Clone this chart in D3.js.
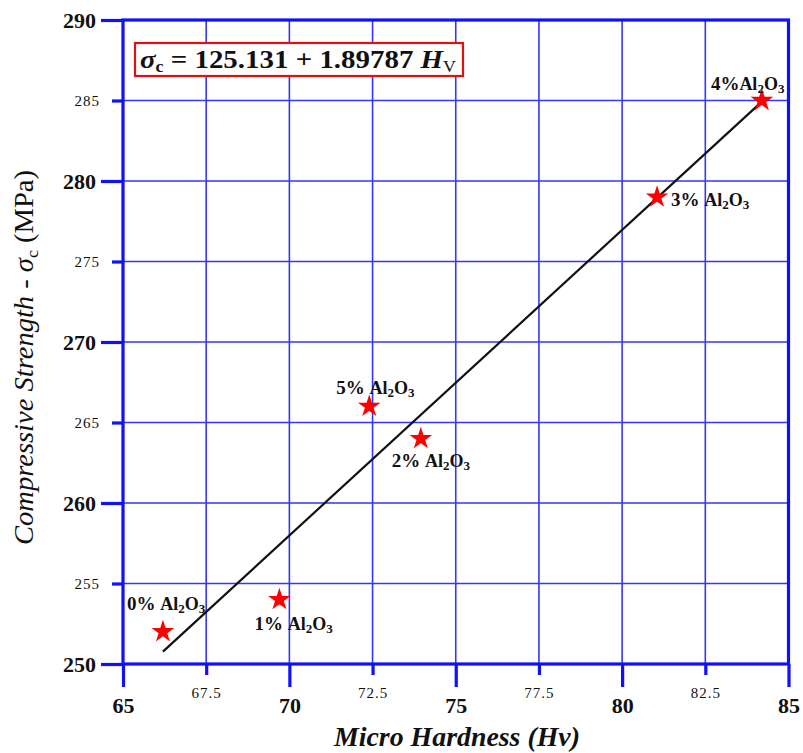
<!DOCTYPE html>
<html>
<head>
<meta charset="utf-8">
<script src="https://cdn.jsdelivr.net/npm/d3@7"></script>
<style>
  html, body { margin: 0; padding: 0; background: #fff; }
  svg { display: block; }
  text { font-family: "Liberation Serif", "Times New Roman", serif; }
</style>
</head>
<body>
<svg id="chart" width="803" height="753"></svg>
<script>
// Micro hardness vs. compressive strength for Al2O3 contents
const contents   = ["0%", "1%", "5%", "2%", "3%", "4%"];
const hardness   = [66.2, 69.7, 72.4, 73.95, 81.05, 84.2];
const strength   = [252, 254, 266, 264, 279, 285];

// Linear fit: sigma_c = a + b * Hv
const fitA = 125.131;
const fitB = 1.89787;

const xMajorTicks = [65, 70, 75, 80, 85];
const xMinorTicks = [67.5, 72.5, 77.5, 82.5];
const yMajorTicks = [250, 260, 270, 280, 290];
const yMinorTicks = [255, 265, 275, 285];

const svg = d3.select("#chart");
const W = 803, H = 753;
svg.append("rect").attr("width", W).attr("height", H).attr("fill", "#fff");

const x = d3.scaleLinear().domain([65, 85]).range([123, 788.5]);
const y = d3.scaleLinear().domain([250, 290]).range([664, 20]);

const blue = "#1010ff";
const serif = "'Liberation Serif', 'Times New Roman', serif";

// grid
const grid = svg.append("g");
grid.selectAll("line.v").data(xMajorTicks.concat(xMinorTicks)).join("line")
  .attr("x1", d => x(d)).attr("x2", d => x(d))
  .attr("y1", y(290)).attr("y2", y(250))
  .attr("stroke", "#3535ff").attr("stroke-width", 1.6);
grid.selectAll("line.h").data(yMajorTicks.concat(yMinorTicks)).join("line")
  .attr("x1", x(65)).attr("x2", x(85))
  .attr("y1", d => y(d)).attr("y2", d => y(d))
  .attr("stroke", "#3535ff").attr("stroke-width", 1.6);

// frame
svg.append("rect")
  .attr("x", x(65)).attr("y", y(290))
  .attr("width", x(85) - x(65)).attr("height", y(250) - y(290))
  .attr("fill", "none").attr("stroke", blue).attr("stroke-width", 3.2);

function styleAxis(g, major) {
  g.attr("font-family", null);
  g.select(".domain").remove();
  g.selectAll(".tick line").attr("stroke", blue).attr("stroke-width", 3.2);
  g.selectAll(".tick text")
    .attr("fill", "#111")
    .style("font-family", serif)
    .style("font-weight", major ? "bold" : "normal")
    .style("font-size", major ? "22px" : "15px")
    .style("letter-spacing", major ? "0px" : "1px");
}

// x axis
svg.append("g").attr("transform", `translate(0,${y(250)})`)
  .call(d3.axisBottom(x).tickValues(xMajorTicks).tickSize(23).tickPadding(10).tickFormat(d3.format("d")))
  .call(g => styleAxis(g, true));
svg.append("g").attr("transform", `translate(0,${y(250)})`)
  .call(d3.axisBottom(x).tickValues(xMinorTicks).tickSize(11).tickPadding(12).tickFormat(d3.format(".1f")))
  .call(g => styleAxis(g, false));

// y axis
svg.append("g").attr("transform", `translate(${x(65)},0)`)
  .call(d3.axisLeft(y).tickValues(yMajorTicks).tickSize(22).tickPadding(5).tickFormat(d3.format("d")))
  .call(g => styleAxis(g, true));
svg.append("g").attr("transform", `translate(${x(65)},0)`)
  .call(d3.axisLeft(y).tickValues(yMinorTicks).tickSize(11).tickPadding(12).tickFormat(d3.format("d")))
  .call(g => styleAxis(g, false));

// axis titles
svg.append("text")
  .attr("x", 334).attr("y", 746)
  .attr("textLength", 246).attr("lengthAdjust", "spacingAndGlyphs")
  .style("font-size", "27px").style("font-style", "italic").style("font-weight", "bold")
  .attr("fill", "#111")
  .text("Micro Hardness (Hv)");

const yt = svg.append("text")
  .attr("transform", "translate(33,545) rotate(-90)")
  .attr("textLength", 375).attr("lengthAdjust", "spacingAndGlyphs")
  .style("font-size", "27px").attr("fill", "#111");
yt.append("tspan").style("font-style", "italic").text("Compressive Strength - ");
yt.append("tspan").style("font-style", "italic").text("σ");
yt.append("tspan").attr("dy", 5).style("font-size", "17px").text("c");
yt.append("tspan").attr("dy", -5).text(" (MPa)");

// fitted line over the measured hardness range
const hvExt = d3.extent(hardness);
const line = d3.line().x(d => x(d)).y(d => y(fitA + fitB * d));
svg.append("path")
  .attr("d", line(hvExt))
  .attr("stroke", "#111").attr("stroke-width", 2.2).attr("fill", "none");

// data points
const pts = contents.map((c, i) => ({ c, hv: hardness[i], s: strength[i] }));
svg.selectAll("path.star").data(pts).join("path")
  .attr("class", "star")
  .attr("transform", d => `translate(${x(d.hv)},${y(d.s)})`)
  .attr("d", d3.symbol(d3.symbolStar, 160))
  .attr("fill", "#ff0000");

// point labels, placed around each star
const labelOffset = {
  "0%": [-36, -28, " "],
  "1%": [-25, 24, " "],
  "5%": [-33, -18, " "],
  "2%": [-29, 22, " "],
  "3%": [14, 3, " "],
  "4%": [-51, -17, ""]
};
pts.forEach(d => {
  const [dx, dy, sep] = labelOffset[d.c];
  const t = svg.append("text")
    .attr("x", x(d.hv) + dx).attr("y", y(d.s) + dy + 6)
    .style("font-weight", "bold").style("font-size", "18px").attr("fill", "#111");
  t.append("tspan").style("font-size", "19px").text(d.c + sep);
  t.append("tspan").text("Al");
  t.append("tspan").attr("dy", 3).style("font-size", "13px").text("2");
  t.append("tspan").attr("dy", -3).text("O");
  t.append("tspan").attr("dy", 3).style("font-size", "13px").text("3");
});

// fit equation box
svg.append("rect")
  .attr("x", 135).attr("y", 43).attr("width", 328).attr("height", 33)
  .attr("fill", "#fff").attr("stroke", "#e01010").attr("stroke-width", 2.2);
const eq = svg.append("text")
  .attr("x", 140).attr("y", 68)
  .attr("textLength", 316).attr("lengthAdjust", "spacingAndGlyphs")
  .style("font-weight", "bold").style("font-size", "26px").attr("fill", "#111");
eq.append("tspan").style("font-style", "italic").text("σ");
eq.append("tspan").attr("dy", 4).style("font-size", "16px").text("c");
eq.append("tspan").attr("dy", -4).text(` = ${fitA} + ${fitB} `);
eq.append("tspan").style("font-style", "italic").text("H");
eq.append("tspan").attr("dy", 4).style("font-size", "16px").style("font-weight", "normal").text("V");
</script>
</body>
</html>
